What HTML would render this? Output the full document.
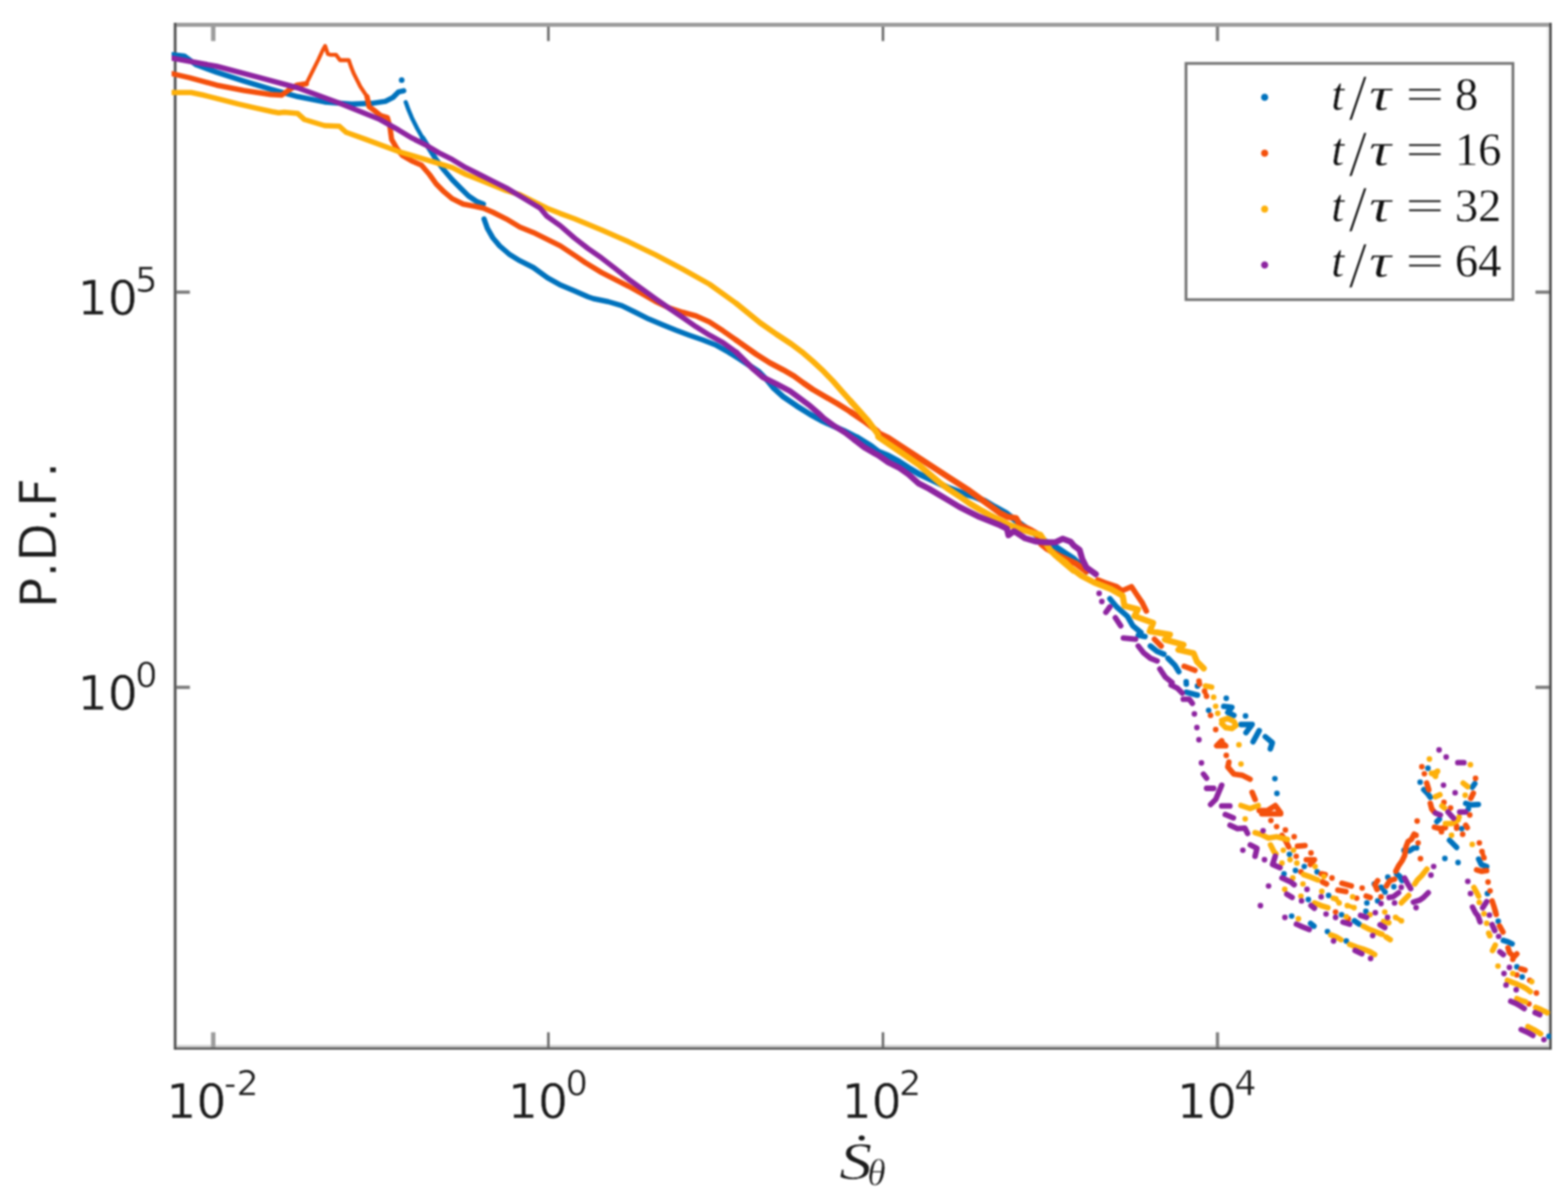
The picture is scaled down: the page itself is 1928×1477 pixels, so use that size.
<!DOCTYPE html>
<html lang="en">
<head>
<meta charset="utf-8">
<title>P.D.F. of entropy production rate</title>
<style>
html,body{margin:0;padding:0;background:#fff;overflow:hidden}
svg{display:block}
</style>
</head>
<body>
<svg width="1928" height="1477" viewBox="0 0 1928 1477" style="filter:blur(0.9px)">
<rect x="0" y="0" width="1928" height="1477" fill="#fff"/>
<defs><clipPath id="plot"><rect x="211" y="30" width="1696" height="1259"/></clipPath></defs>
<g id="axes">
<rect x="214" y="1285" width="1691" height="3" fill="#d2d2d2"/>
<rect x="1902.3" y="33" width="2.7" height="1252" fill="#e6e6e6"/>
<rect x="212.6" y="28" width="1.4" height="1263" fill="#d8d8d8"/>
<rect x="216.8" y="33" width="1.2" height="1252" fill="#e0e0e0"/>
<rect x="214" y="28" width="1694" height="5" fill="#9c9c9c"/>
<rect x="214" y="1288" width="1694" height="3" fill="#626262"/>
<rect x="1905" y="28" width="3" height="1263" fill="#4c4c4c"/>
<rect x="214" y="28" width="2.8" height="1263" fill="#4c4c4c"/>
<rect x="259.5" y="33" width="5.4" height="17.5" fill="#9c9c9c"/>
<rect x="259.5" y="1269.5" width="5.4" height="18.5" fill="#9c9c9c"/>
<rect x="672.7" y="33" width="3.2" height="17.5" fill="#6e6e6e"/>
<rect x="672.7" y="1269.5" width="3.2" height="18.5" fill="#6e6e6e"/>
<rect x="1084.1" y="33" width="3.2" height="17.5" fill="#6e6e6e"/>
<rect x="1084.1" y="1269.5" width="3.2" height="18.5" fill="#6e6e6e"/>
<rect x="1494.9" y="33" width="4.2" height="17.5" fill="#858585"/>
<rect x="1494.9" y="1269.5" width="4.2" height="18.5" fill="#858585"/>
<rect x="217" y="357.3" width="16.5" height="4" fill="#7a7a7a"/>
<rect x="1888" y="357.3" width="17" height="4" fill="#7a7a7a"/>
<rect x="217" y="843.3" width="16.5" height="4" fill="#7a7a7a"/>
<rect x="1888" y="843.3" width="17" height="4" fill="#7a7a7a"/>
</g>
<g id="curves" clip-path="url(#plot)">
<g stroke="#0072bd" fill="#0072bd" stroke-width="6.4" stroke-linecap="round" stroke-linejoin="round">
<polyline fill="none" stroke-width="6.5" points="211.6,67.3 226.6,69 241.5,79.8 266.4,88.9 299.6,99.7 332.8,109.7 366,118.8 399.2,125.4 432.4,127.9 457.3,127.1 473.9,124.6 483.2,119.9 489.8,113.2 496.4,111.6"/>
<circle cx="493.9" cy="98.6" r="3.5" stroke="none"/>
<polyline fill="none" stroke-width="5.2" points="498.9,125.7 502.2,134.8 506.4,144.8 513,158 519.7,169.7"/>
<polyline fill="none" stroke-width="6.5" points="519.7,169.7 528,182.9 536.3,196.2 546.2,209.5 556.2,221.1 566.1,231.1 576.1,241 586.1,247.7 594.4,251"/>
<polyline fill="none" stroke-width="6.5" points="595.2,269.3 599.3,280.9 606,292.5 614.3,302.4 625.9,312.4 639.2,320.7 655.8,329 673.2,341.6 689.8,350.8 706.4,357.8 723,365 729.6,367.3 747.9,371 764.5,375.9 781.1,384 797.7,392.3 814.3,399.3 830.9,406 847.5,412.2 864.1,418 880.7,424.6 897.3,433.8"/>
<polyline fill="none" stroke-width="7" points="897.3,433.8 908.9,441.1 933.1,457.1 943.1,467.4 951.4,477.5 963,487.9 979.6,499.2 996.2,509.6 1009.5,517 1022.7,523.1 1037.7,529.7 1054.3,538.2"/>
<polyline fill="none" stroke-width="7.5" points="1054.3,538.2 1070.9,548.5 1080,555.5 1092.4,560.5 1104.9,567.3 1117.3,575.4 1129.8,582.9 1148.5,591.6 1167.1,600.3 1185.8,607.2 1198.3,610.9 1210.7,615.9 1223.2,623.4 1236.8,630.8 1248,639.5 1260.5,648.3 1272.9,657 1285.4,665.7 1299.1,673.2 1310.3,680.6 1320,686.8 1335.8,702.7"/>
<polyline fill="none" stroke-width="6.8" points="1364.7,736.4 1373,746.4 1386.3,758 1389.6,763.8 1392.9,769.6 1402.9,777.9"/>
<polyline fill="none" stroke-width="6.8" points="1399.6,781.2 1407.9,782.9"/>
<polyline fill="none" stroke-width="6.8" points="1414.5,794.5 1422.8,801.2 1431.1,804.5"/>
<polyline fill="none" stroke-width="6.8" points="1436.1,809.5 1444.4,817.8 1449.4,826.1"/>
<polyline fill="none" stroke-width="6.8" points="1458.7,851.2 1472.4,854.9"/>
<polyline fill="none" stroke-width="6.8" points="1504.7,868.6 1514.7,869.9 1509.7,876.1 1517.2,879.8"/>
<polyline fill="none" stroke-width="6.8" points="1525.9,891 1539.6,891 1532.1,901"/>
<polyline fill="none" stroke-width="6.8" points="1548.3,898.5 1540.8,912.2"/>
<polyline fill="none" stroke-width="6.8" points="1555.8,906 1564.5,913.4 1562,920.9"/>
<polyline fill="none" stroke-width="6.8" points="1611.5,1135.7 1615.6,1139"/>
<polyline fill="none" stroke-width="6.8" points="1665.4,1132.4 1671.2,1136.5"/>
<polyline fill="none" stroke-width="6.8" points="1818.1,1056.6 1821.4,1063.2 1828,1065.7"/>
<polyline fill="none" stroke-width="6.8" points="1848.5,1156.6 1854.3,1158.3 1859.3,1160.7"/>
<polyline fill="none" stroke-width="6.8" points="1726.3,1045.6 1732.9,1046.5 1737.9,1043.2"/>
<polyline fill="none" stroke-width="6.8" points="1717.2,1074.7 1721.3,1078 1723.8,1083"/>
<polyline fill="none" stroke-width="6.8" points="1750.6,971.2 1755.6,976.2 1758.7,980.5"/>
<polyline fill="none" stroke-width="6.8" points="1813.4,963.7 1810.3,968.1"/>
<polyline fill="none" stroke-width="6.8" points="1802.2,988 1808.5,989.9 1817.8,989.3"/>
<polyline fill="none" stroke-width="6.8" points="1766.8,1010.4 1769.9,1007.3"/>
<polyline fill="none" stroke-width="6.8" points="1782.3,1033.4 1786.1,1037.2 1791,1042.2"/>
<path fill="none" stroke-width="5.5" d="M1458.5,838.5L1458.7,841.2M1698.1,1091.3L1703.1,1097.1"/>
<path fill="none" stroke-width="6.9" d="M1458.5,838.5h0M1458.7,841.2h0M1472.4,843.7h0M1507.8,858.7h0M1486.1,873.6h0M1531.5,880.5h0M1567.6,957.6h0M1570.1,975.7h0M1755.8,944.7h0M1904.6,1274.5h0M1585.5,1050.6h0M1603.7,1065.6h0M1592.9,1070.5h0M1578.8,1074.7h0M1619.5,1072.2h0M1633.6,1101.2h0M1608.7,1106.2h0M1588.2,1126.6h0M1632.2,1145.6h0M1649.6,1124.9h0M1655.4,1157.3h0M1679.5,1120.7h0M1776.6,1055.7h0M1792.8,1060.7h0M1828.9,1098.9h0M1838.8,1121.3h0M1842.2,1132.9h0M1865.1,1189h0M1871.7,1201.4h0M1689.8,1087.1h0M1698.1,1091.3h0M1703.1,1097.1h0M1706.4,1078.8h0M1713.9,1090.5h0M1680.7,1110.4h0M1693.9,1107.9h0M1746.2,961.9h0M1805.4,994.9h0M1797.3,1019.1h0M1741.9,1042.8h0"/>
</g>
<g stroke="#f4500c" fill="#f4500c" stroke-width="6.4" stroke-linecap="round" stroke-linejoin="round">
<polyline fill="none" stroke-width="6.5" points="211.6,90.6 233.2,95.6 266.4,104.7 299.6,111.3 332.8,116.3 346.1,117.1 354.4,111.3 365,104.7 376.6,103"/>
<polyline fill="none" stroke-width="4.8" points="376.6,103 379.1,98 384.9,86.4 391.5,73.2 397.3,60.7 399.8,56.6 403.2,66.5 406.5,67.3 413.1,67.3 418.1,74 428.9,74 431.4,81.5 434.7,89.8 443,106.3 451.3,118.8"/>
<polyline fill="none" stroke-width="6.5" points="451.3,118.8 453.8,131.2 459.6,135.4 467.9,142 476.2,144.5 479.5,156.1 481.5,171.3 488.1,182.9 494.8,191.2 506.4,197.9 518,202.9 528,214.5 536.3,226.1 546.2,236.1 556.2,244.4 569.5,251 582.7,253.5 594.4,256 606,261 622.6,269.3 639.2,279.2 655.8,285.9 672.4,294.1 689,302.4 709.7,316.1 719.7,323 739.6,335.1 756.2,343.7 772.8,352 789.4,361.2 806,370.7 822.6,378.6 839.2,384 855.8,388.5 872.4,396 889,406.8 905.6,418.5"/>
<polyline fill="none" stroke-width="7" points="905.6,418.5 929.8,435.6 946.4,446.1 963,454.8 976.3,462.5 987.9,471 999.5,479 1012.8,486.7 1029.4,496.3 1046,506.6"/>
<polyline fill="none" stroke-width="7.5" points="1046,506.6 1062.6,517.8 1079.2,530.6 1080,532.5 1092.4,538.7 1117.3,554.9 1142.2,571.1 1167.1,587.3 1192,603.4 1210.7,617.1 1229.4,630.8 1239.3,635.8 1249.3,637.1 1254.3,645.8 1266.7,651.4 1274.2,655.7 1280.4,669.4 1286.6,674.4 1304.1,684.4 1320,691.8 1322.5,692.8 1335.8,702.7"/>
<polyline fill="none" stroke-width="6.8" points="1349.8,713.2 1358.1,716.5 1373,721.5 1379.7,726.5 1391.3,721.5 1397.9,731.5 1404.6,741.4 1409.5,751.4"/>
<polyline fill="none" stroke-width="6.8" points="1419.5,786.2 1423.7,790.4 1427.8,794.5"/>
<polyline fill="none" stroke-width="6.8" points="1456,819.4 1462.7,821.9 1469.3,824.4"/>
<polyline fill="none" stroke-width="6.8" points="1502.2,911 1496,917.2 1507.2,917.2 1502.2,913.4"/>
<polyline fill="none" stroke-width="6.8" points="1511,937.1 1509.7,943.3 1517.2,952 1527.1,953.3 1537.1,958.3"/>
<polyline fill="none" stroke-width="6.8" points="1539.6,974.4 1543.3,983.2"/>
<polyline fill="none" stroke-width="6.8" points="1548.3,996.8 1558.3,996.8 1568.2,990.6 1574.4,999.3"/>
<polyline fill="none" stroke-width="6.8" points="1551.5,1000.8 1563.1,1000.8 1574.7,1000.8"/>
<polyline fill="none" stroke-width="6.8" points="1576.3,1027.4 1581.3,1034.9 1584.6,1041.5"/>
<polyline fill="none" stroke-width="6.8" points="1595.4,1040.7 1604.6,1039.8"/>
<polyline fill="none" stroke-width="6.8" points="1606.2,1057.3 1616.2,1057.3 1611.2,1063.1"/>
<polyline fill="none" stroke-width="6.8" points="1624.5,1074.7 1629.5,1075.5"/>
<polyline fill="none" stroke-width="6.8" points="1626.1,1084.6 1631.1,1087.1"/>
<polyline fill="none" stroke-width="6.8" points="1815.6,1069.8 1821.4,1071.5 1828,1070.7"/>
<polyline fill="none" stroke-width="6.8" points="1834.7,1108 1837.2,1115.5 1839.7,1124.6"/>
<polyline fill="none" stroke-width="6.8" points="1843.8,1138.7 1848,1146.2"/>
<polyline fill="none" stroke-width="6.8" points="1854.3,1165.7 1856,1171.5 1861.8,1176.5 1865.1,1173.2"/>
<polyline fill="none" stroke-width="6.8" points="1870.1,1191.5 1875.1,1193.1"/>
<polyline fill="none" stroke-width="6.8" points="1716.3,1071.4 1719.7,1064.7 1723.8,1058.9 1727.1,1052.3 1728.8,1041.5 1731.3,1034.9 1735.4,1032.4 1738.8,1025.7"/>
<polyline fill="none" stroke-width="6.8" points="1693.9,1083 1690.6,1088 1693.1,1093.8"/>
<polyline fill="none" stroke-width="6.8" points="1704.7,1089.6 1708.9,1083 1714.7,1081.3"/>
<polyline fill="none" stroke-width="6.8" points="1650,1086.3 1661.6,1089.6"/>
<polyline fill="none" stroke-width="6.8" points="1645,1094.6 1654.9,1096.3"/>
<polyline fill="none" stroke-width="6.8" points="1679.8,1102.1 1684.8,1103.7"/>
<polyline fill="none" stroke-width="6.8" points="1754.3,963.1 1756.8,971.2"/>
<polyline fill="none" stroke-width="6.8" points="1758.7,988 1760.5,994.9 1763,998"/>
<polyline fill="none" stroke-width="6.8" points="1811.6,975.6 1808.5,981.8"/>
<polyline fill="none" stroke-width="6.8" points="1763.7,1017.3 1771.1,1019.1 1777.3,1017.9"/>
<polyline fill="none" stroke-width="6.8" points="1791,1018.5 1791,1016"/>
<polyline fill="none" stroke-width="6.8" points="1802.2,1014.8 1804.1,1017.9"/>
<path fill="none" stroke-width="5.5" d="M1474.3,837.7L1474.9,841.2M1481.1,850L1483.6,856.2M1824.7,1054.9L1822.2,1047.1"/>
<path fill="none" stroke-width="6.9" d="M1474.3,837.7h0M1474.9,841.2h0M1481.1,850h0M1483.6,856.2h0M1488.5,879.8h0M1494.8,897.3h0M1507.8,929h0M1748.3,942.9h0M1751.4,951.6h0M1814.3,957.2h0M1562.7,1009.1h0M1569.7,1016.6h0M1580.5,1020.7h0M1591.3,1029h0M1612,1049h0M1593.8,1053.1h0M1599.6,1072.2h0M1637.8,1079.7h0M1642.2,1121.6h0M1657.9,1129.9h0M1824.7,1054.9h0M1829.7,1084.8h0M1832.2,1095.6h0M1860.1,1179.8h0M1865.1,1198.9h0M1889.2,1221.3h0M1880,1234.6h0M1880.9,1205.6h0M1746.6,1056h0M1674.9,1092.1h0M1668.2,1104.6h0M1698.1,1102.9h0M1775.5,986.8h0M1783.6,993.6h0M1807.2,1002.3h0M1772.4,1022.9h0M1798.5,1026h0M1742.5,1009.8h0M1741.2,1027.2h0M1743.7,1036.6h0M1819,1036.6h0M1822.2,1047.1h0"/>
</g>
<g stroke="#fdb00a" fill="#fdb00a" stroke-width="6.4" stroke-linecap="round" stroke-linejoin="round">
<polyline fill="none" stroke-width="6.5" points="211.6,113.8 234.9,113.8 251.5,117.3 271.4,122.4 292.9,127.9 314.5,132.9 334.4,137.2 342.7,138.7 349.4,137.9 366,139.5 374.3,147 399.2,154.5 417.4,155.3 425.7,162.8 449,171.1 489.8,186.3 506.4,191.2 523,196.2 539.6,201.2 556.2,206.2 572.8,214.5 589.4,221.1 606,227.8 622.6,234.4 639.2,239.4 655.8,247.7 672.4,256 689,262.6 706.4,269 739.6,282.7 772.8,297.3 806,313.4 839.2,330.9 872.4,349.5 905.6,373.4"/>
<polyline fill="none" stroke-width="7" points="905.6,373.4 934.8,397.1 954.7,411 972.9,423 987.9,434.3 999.5,444.4 1012.8,456.8 1024.4,468.9 1034.4,480.4 1046,493.4"/>
<polyline fill="none" stroke-width="7.5" points="1046,493.4 1055.9,504.5 1067.6,517.8 1079.2,533.6 1080,537.5 1104.9,554.3 1129.8,571.7 1142.2,582.3 1154.7,592.9 1167.1,602.2 1179.6,610.3 1192,619 1204.5,626.5 1216.9,633.3 1229.4,639.5 1241.8,645.8 1254.3,650.7 1266.7,654.5 1279.2,657.6 1285.4,666.9 1291.6,676.9 1297.8,683.1 1310.3,691.8 1320,701.8 1300,685 1316.6,698.3 1329.9,708.2 1345.2,716.2 1366,724.5 1380.5,732.8 1382.6,745.2 1399.2,749.4 1395,757.7 1417.8,766 1413.7,776.3 1438.6,780.5 1432.4,786.7 1455.2,792.9 1449,799.2 1467.6,803.3 1471.8,813.7 1480.1,822"/>
<polyline fill="none" stroke-width="6.8" points="1482.3,843.7 1489.8,845"/>
<polyline fill="none" stroke-width="6.8" points="1502.2,886.1 1509.7,883.6 1517.2,887.3 1519.7,892.3 1514.7,896 1507.2,894.8 1502.2,889.8"/>
<polyline fill="none" stroke-width="6.8" points="1525.9,990.6 1537.1,994.4 1547.1,990.6"/>
<polyline fill="none" stroke-width="6.8" points="1878.7,1262.6 1886,1266.2 1894.3,1271.4"/>
<polyline fill="none" stroke-width="6.8" points="1543.2,1024.1 1551.5,1026.6 1559.8,1030.7 1569.7,1029 1583,1032.4"/>
<polyline fill="none" stroke-width="6.8" points="1562.2,1039 1566.4,1047.3 1568.9,1049.8"/>
<polyline fill="none" stroke-width="6.8" points="1602.9,1075.5 1612,1078.8 1620.3,1082.2"/>
<polyline fill="none" stroke-width="6.8" points="1616.2,1110.4 1624.5,1113.7 1632.8,1116.2"/>
<polyline fill="none" stroke-width="6.8" points="1636.3,1149.8 1643,1152.3 1648.8,1155.6"/>
<polyline fill="none" stroke-width="6.8" points="1659.6,1161.4 1667.9,1164.7 1676.2,1167.2 1684.5,1170.5 1690.3,1173.9"/>
<polyline fill="none" stroke-width="6.8" points="1676.2,1139 1684.5,1143.2 1692.8,1146.5 1699.4,1149"/>
<polyline fill="none" stroke-width="6.8" points="1704.4,1152.3 1709.4,1155.6"/>
<polyline fill="none" stroke-width="6.8" points="1701.1,1133.2 1707.7,1134.9"/>
<polyline fill="none" stroke-width="6.8" points="1812.3,1091.4 1816.4,1098.9 1818.1,1102.2"/>
<polyline fill="none" stroke-width="6.8" points="1838.5,1162.4 1835.2,1169"/>
<polyline fill="none" stroke-width="6.8" points="1853.5,1205.6 1859.3,1208 1865.9,1210.5 1871.7,1213 1877.5,1216.3 1881.7,1219.7"/>
<polyline fill="none" stroke-width="6.8" points="1865.1,1228 1870.9,1230.5 1875.9,1232.1"/>
<polyline fill="none" stroke-width="6.8" points="1888.3,1238.8 1894.1,1241.2 1902.4,1245.4"/>
<polyline fill="none" stroke-width="6.8" points="1754.5,1068.9 1747.9,1077.2 1742.9,1082.2 1739.6,1087.1"/>
<polyline fill="none" stroke-width="6.8" points="1732.1,1101.2 1727.1,1106.2 1723,1110.4"/>
<polyline fill="none" stroke-width="6.8" points="1799.1,963.1 1804.7,967.5"/>
<polyline fill="none" stroke-width="6.8" points="1764.9,979.9 1770.5,977.4"/>
<polyline fill="none" stroke-width="6.8" points="1773,991.1 1776.1,993.6"/>
<polyline fill="none" stroke-width="6.8" points="1777.3,1012.9 1784.8,1012.9 1792.9,1008.5"/>
<path fill="none" stroke-width="5.5" d="M1760.1,951L1767.6,948.5M1760.1,951L1765.1,954.7M1767.6,948.5L1765.1,954.7M1723.2,1132.4L1716,1128.2M1639.4,1104.6L1642.5,1105.4M1830.5,1147.8L1831.9,1150.8M1642.5,1105.4L1646.6,1110.4M1656.6,1113.7L1664.9,1116.2"/>
<path fill="none" stroke-width="6.9" d="M1492.3,857.4h0M1494.8,868.6h0M1497.3,877.3h0M1523.4,915.9h0M1525.9,939.6h0M1757.6,933.5h0M1808,940.4h0M1760.1,951h0M1767.6,948.5h0M1765.1,954.7h0M1723.2,1132.4h0M1531.1,1007.1h0M1578,1045.6h0M1590.5,1045.6h0M1586.3,1057.3h0M1594.6,1061.4h0M1617,1065.6h0M1576.3,1061.4h0M1627.8,1078h0M1589.6,1079.7h0M1602.1,1087.1h0M1579.7,1093.8h0M1625.3,1096.3h0M1599.6,1102.1h0M1639.4,1104.6h0M1596.5,1129.9h0M1655.4,1127.4h0M1702.7,1121.6h0M1716,1128.2h0M1684.5,1124.9h0M1818.9,1109.7h0M1824.7,1123.8h0M1828,1135.4h0M1830.5,1147.8h0M1831.9,1150.8h0M1841.9,1188.1h0M1860.1,1197.3h0M1883.4,1207.2h0M1642.5,1105.4h0M1663.2,1102.9h0M1646.6,1110.4h0M1656.6,1113.7h0M1664.9,1116.2h0M1801.6,978h0M1794.1,1004.8h0M1784.8,1027.2h0M1810.3,1038.4h0"/>
</g>
<g stroke="#8d24a0" fill="#8d24a0" stroke-width="6.4" stroke-linecap="round" stroke-linejoin="round">
<polyline fill="none" stroke-width="6.5" points="211.6,71.5 266.4,81.5 316.2,94.7 366,108 415.8,126.3 465.6,146.2 489.8,159.7 506.4,169.7 523,178 539.6,187.9 556.2,196.2 572.8,206.2 589.4,214.5 606,222.8 622.6,231.1 639.2,241 655.8,251 664.1,256 672.4,265.9 689,277.6 706.4,292.7 723,305.6 739.6,317.2 756.2,330 772.8,343.3 789.4,355.4 806,367.4 822.6,379 839.2,390.2 855.8,401.8 872.4,412.2 889,421.3 905.6,433.4"/>
<polyline fill="none" stroke-width="7" points="905.6,433.4 926.5,454.2 938.1,464 954.7,472.2 971.3,480.9 982.9,489.3 996.2,499.3 1006.1,507.9 1012.8,514.2 1026.1,524.1 1039.3,532.2 1051,541.1"/>
<polyline fill="none" stroke-width="7.5" points="1051,541.1 1062.6,549.9 1075.9,557.7 1080,559.9 1092.4,568.6 1104.9,574.8 1117.3,583.5 1129.8,594.7 1142.2,601 1154.7,608.4 1167.1,615.9 1179.6,623.4 1192,629.6 1204.5,635.8 1216.9,640.8 1229.4,645.8 1238.1,650.1 1240,658.2 1246.8,653.2 1260.5,662 1272.9,665.7 1285.4,666.9 1297.8,666.9 1306.6,662.6 1316.5,666.3 1320,670.7 1327.5,676.2 1330.8,687.8 1335.8,697.8 1347.4,706.1"/>
<polyline fill="none" stroke-width="6.8" points="1364.7,746.4 1359.8,753"/>
<polyline fill="none" stroke-width="6.8" points="1371.4,759.7 1374.7,764.6 1378,769.6"/>
<polyline fill="none" stroke-width="6.8" points="1381.3,784.6 1388.8,785.4 1396.3,786.2"/>
<polyline fill="none" stroke-width="6.8" points="1399.6,794.5 1406.2,802.8 1414.5,809.5 1422.8,812.8"/>
<polyline fill="none" stroke-width="6.8" points="1426.1,822.7 1432.8,832.7 1441.1,839.3"/>
<polyline fill="none" stroke-width="6.8" points="1440,842.5 1447.5,846.2 1453.7,852.4"/>
<polyline fill="none" stroke-width="6.8" points="1454.9,859.9 1462.4,859.9 1466.1,864.9"/>
<polyline fill="none" stroke-width="6.8" points="1479.8,952 1483.6,957"/>
<polyline fill="none" stroke-width="6.8" points="1483.6,969.5 1492.3,969.5"/>
<polyline fill="none" stroke-width="6.8" points="1502.2,965.7 1498.5,974.4 1494.8,983.2 1488.5,989.4"/>
<polyline fill="none" stroke-width="6.8" points="1502.2,991.2 1512.2,991.2"/>
<polyline fill="none" stroke-width="6.8" points="1792.5,937.9 1800,937.9"/>
<polyline fill="none" stroke-width="6.8" points="1870.4,1266.2 1877.7,1269.3 1884.9,1273.4"/>
<polyline fill="none" stroke-width="6.8" points="1506.6,1001.7 1516.6,1005.8"/>
<polyline fill="none" stroke-width="6.8" points="1512.4,1014.9 1521.6,1019.1 1530.7,1018.3 1534,1024.9"/>
<polyline fill="none" stroke-width="6.8" points="1537.3,1039 1545.6,1043.2 1543.2,1053.1"/>
<polyline fill="none" stroke-width="6.8" points="1568,1053.1 1564.7,1063.1 1573.9,1067.2"/>
<polyline fill="none" stroke-width="6.8" points="1576.3,1079.7 1587.1,1084.6 1591.3,1088"/>
<polyline fill="none" stroke-width="6.8" points="1582.2,1099.6 1588.8,1103.7"/>
<polyline fill="none" stroke-width="6.8" points="1612,1113.7 1616.2,1117"/>
<polyline fill="none" stroke-width="6.8" points="1594,1136.5 1601.5,1139.8 1609.8,1143.2"/>
<polyline fill="none" stroke-width="6.8" points="1651.3,1134 1659.6,1136.5"/>
<polyline fill="none" stroke-width="6.8" points="1672.9,1125.7 1680.3,1128.2"/>
<polyline fill="none" stroke-width="6.8" points="1696.9,1137.3 1702.7,1140.7"/>
<polyline fill="none" stroke-width="6.8" points="1666.2,1168.9 1674.5,1173"/>
<polyline fill="none" stroke-width="6.8" points="1828,1108.8 1823.1,1116.3"/>
<polyline fill="none" stroke-width="6.8" points="1810.6,1115.5 1813.9,1122.1 1817.3,1126.3 1819.8,1133.7"/>
<polyline fill="none" stroke-width="6.8" points="1834.7,1137.1 1838,1144.5"/>
<polyline fill="none" stroke-width="6.8" points="1844.3,1170.7 1848.5,1174"/>
<polyline fill="none" stroke-width="6.8" points="1857.6,1231.3 1863.4,1233.8 1869.2,1237.1 1874.2,1240.4"/>
<polyline fill="none" stroke-width="6.8" points="1887.5,1245.4 1893.3,1247.9"/>
<polyline fill="none" stroke-width="6.8" points="1727.1,1079.7 1730.5,1086.3 1734.6,1092.9"/>
<polyline fill="none" stroke-width="6.8" points="1719.7,1097.9 1713,1102.9 1708,1103.7"/>
<polyline fill="none" stroke-width="6.8" points="1756.2,1097.9 1750.4,1103.7 1745.4,1107.1 1737.9,1109.5"/>
<polyline fill="none" stroke-width="6.8" points="1764.9,999.8 1771.1,1002.3"/>
<polyline fill="none" stroke-width="6.8" points="1780.5,998.6 1784.8,1003.6 1787.3,1006.1"/>
<polyline fill="none" stroke-width="6.8" points="1794.8,998.6 1802.2,998.6"/>
<path fill="none" stroke-width="6.9" d="M1351.5,729.8h0M1354.8,739.8h0M1468.6,878h0M1471.7,894.8h0M1474.2,909.7h0M1477.3,938.3h0M1769.5,922.3h0M1778.2,931h0M1898.4,1278.6h0M1553.1,1021.6h0M1528.2,1045.6h0M1554.8,1057.3h0M1559.8,1089.6h0M1607.1,1093.8h0M1624.5,1102.9h0M1600.4,1107.9h0M1549.8,1113.7h0M1579.9,1128.2h0M1630.5,1124.1h0M1642.2,1128.2h0M1691.1,1122.4h0M1706.1,1128.2h0M1687.8,1150.6h0M1639.7,1157.3h0M1685.3,1178.8h0M1804.8,1083.9h0M1808.1,1098.9h0M1831.4,1125.4h0M1842.7,1151.6h0M1856,1189.8h0M1849.3,1197.3h0M1851.8,1211.4h0M1864.3,1217.2h0M1762.8,1065.6h0M1759.5,1076.3h0M1723,1091.3h0M1741.2,1116.2h0M1698.1,1111.2h0M1714.7,1110.4h0M1774.9,965.6h0M1789.2,974.9h0"/>
</g>
</g>
<g id="legend">
<rect x="1458.3" y="78" width="402" height="290.5" fill="#fff" stroke="#757575" stroke-width="3.4"/>
<circle cx="1555" cy="119.7" r="4.4" fill="#0072bd"/>
<circle cx="1555" cy="188.4" r="4.4" fill="#f4500c"/>
<circle cx="1555" cy="257.1" r="4.4" fill="#fdb00a"/>
<circle cx="1555" cy="325.8" r="4.4" fill="#8d24a0"/>
<g font-family="'Liberation Serif', serif" fill="#111" font-size="57" stroke="#fff" stroke-width="0.3" paint-order="fill stroke">
<text x="1637" y="134.6" font-style="italic">t</text>
<text x="1658.5" y="147.1" font-size="80" fill="#111" stroke="#fff" stroke-width="0.9">/</text>
<text transform="translate(1683.5,134.6) scale(1.32,1)" font-style="italic">τ</text>
<text transform="translate(1728,134.6) scale(1.49,1)">=</text>
<text x="1789" y="134.6">8</text>
<text x="1637" y="203.1" font-style="italic">t</text>
<text x="1658.5" y="215.6" font-size="80" fill="#111" stroke="#fff" stroke-width="0.9">/</text>
<text transform="translate(1683.5,203.1) scale(1.32,1)" font-style="italic">τ</text>
<text transform="translate(1728,203.1) scale(1.49,1)">=</text>
<text x="1789" y="203.1">16</text>
<text x="1637" y="271.6" font-style="italic">t</text>
<text x="1658.5" y="284.1" font-size="80" fill="#111" stroke="#fff" stroke-width="0.9">/</text>
<text transform="translate(1683.5,271.6) scale(1.32,1)" font-style="italic">τ</text>
<text transform="translate(1728,271.6) scale(1.49,1)">=</text>
<text x="1789" y="271.6">32</text>
<text x="1637" y="340" font-style="italic">t</text>
<text x="1658.5" y="352.5" font-size="80" fill="#111" stroke="#fff" stroke-width="0.9">/</text>
<text transform="translate(1683.5,340) scale(1.32,1)" font-style="italic">τ</text>
<text transform="translate(1728,340) scale(1.49,1)">=</text>
<text x="1789" y="340">64</text>
</g>
</g>
<g id="labels">
<g font-family="'DejaVu Sans', 'Liberation Sans', sans-serif" fill="#1c1c1c" stroke="#fff" stroke-width="0.6" paint-order="fill stroke">
<text x="204.5" y="1374.6" font-size="58">10<tspan dx="-3" dy="-28" font-size="43">-2</tspan></text>
<text x="624.6" y="1374.6" font-size="58">10<tspan dx="-3" dy="-28" font-size="43">0</tspan></text>
<text x="1034.8" y="1374.6" font-size="58">10<tspan dx="-3" dy="-28" font-size="43">2</tspan></text>
<text x="1447" y="1374.6" font-size="58">10<tspan dx="-3" dy="-28" font-size="43">4</tspan></text>
<text x="95.5" y="387" font-size="58">10<tspan dx="-3" dy="-28" font-size="43">5</tspan></text>
<text x="95.5" y="872.6" font-size="58">10<tspan dx="-3" dy="-28" font-size="43">0</tspan></text>
<text transform="translate(68.5,748) rotate(-90)" font-size="62" style="font-kerning:none" font-kerning="none">P.D.F.</text>
</g>
<g font-family="'Liberation Serif', serif" fill="#1c1c1c" font-style="italic" stroke="#fff" stroke-width="0.5" paint-order="fill stroke">
<text transform="translate(1032,1449.5) scale(1.22,1)" font-size="66">Ṡ</text>
<text x="1066.5" y="1457.5" font-size="46">θ</text>
</g>
</g>
</svg>
</body>
</html>
